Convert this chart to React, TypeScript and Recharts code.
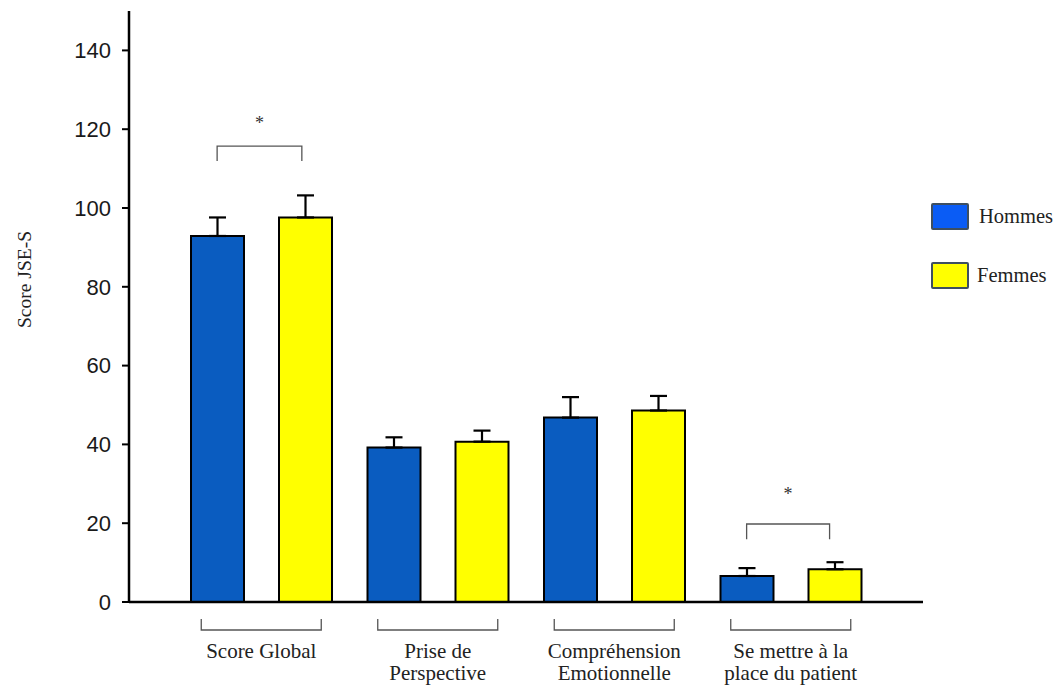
import { BarChart, Bar, XAxis, YAxis, ErrorBar, Legend, ReferenceArea, ReferenceDot } from 'recharts';

const categories = ['Score Global', 'Prise de\nPerspective', 'Compréhension\nEmotionnelle', 'Se mettre à la\nplace du patient'];
const hommes = [92.9, 39.2, 46.8, 6.6];
const femmes = [97.6, 40.7, 48.6, 8.3];
const hommesErr = [4.7, 2.6, 5.2, 2.0];
const femmesErr = [5.6, 2.8, 3.7, 1.8];
const yTicks = [0, 20, 40, 60, 80, 100, 120, 140];

// significance brackets, in category units (0..4) and score units
const bracketFrom = [0.25, 3.25];
const bracketTo = [0.73, 3.72];
const bracketTop = [115.7, 19.8];
const bracketLeg = [111.9, 15.9];
const starY = [122.2, 28];

const seriesNames = ['Hommes', 'Femmes'];

const data = categories.map((c, i) => ({
    category: c,
    hommes: hommes[i],
    femmes: femmes[i],
    hommesErr: [0, hommesErr[i]],
    femmesErr: [0, femmesErr[i]],
}));

const serif = '"Liberation Serif", "Times New Roman", serif';
const sans = '"Liberation Sans", Arial, sans-serif';

function CategoryTick({ x, y, payload }: any) {
    const lines = String(payload.value).split('\n');
    return (
        <g>
            <path
                d={`M${x - 60},${y + 17} V${y + 28} H${x + 60} V${y + 17}`}
                fill="none"
                stroke="#555"
                strokeWidth={1.3}
            />
            {lines.map((l, i) => (
                <text
                    key={i}
                    x={x}
                    y={y + 56 + i * 22}
                    textAnchor="middle"
                    fontFamily={serif}
                    fontSize={21}
                    fill="#222"
                >
                    {l}
                </text>
            ))}
        </g>
    );
}

function YLabel({ viewBox }: any) {
    const cx = viewBox.x + 24;
    const cy = viewBox.y + viewBox.height / 2 - 27;
    return (
        <text
            x={cx}
            y={cy}
            transform={`rotate(-90, ${cx}, ${cy})`}
            textAnchor="middle"
            dominantBaseline="central"
            fontFamily={serif}
            fontSize={19.5}
            fill="#222"
        >
            Score JSE-S
        </text>
    );
}

function Bracket({ x, y, width, height }: any) {
    return (
        <path
            d={`M${x},${y + height} V${y} H${x + width} V${y + height}`}
            fill="none"
            stroke="#555"
            strokeWidth={1.3}
        />
    );
}

function Star({ cx, cy }: any) {
    return (
        <text x={cx} y={cy + 8} textAnchor="middle" fontFamily={serif} fontSize={18} fill="#333">
            *
        </text>
    );
}

function LegendBox() {
    const fills = ['#0a5cf5', '#ffff00'];
    return (
        <div>
            {seriesNames.map((n, i) => (
                <div key={n} style={{ display: 'flex', alignItems: 'center', height: 27, marginBottom: 32 }}>
                    <div
                        style={{
                            width: 38,
                            height: 27,
                            boxSizing: 'border-box',
                            background: fills[i],
                            border: '2px solid #3e4f60',
                            borderRadius: 2,
                        }}
                    />
                    <span style={{ marginLeft: i === 0 ? 10 : 8, fontFamily: serif, fontSize: 20.5, color: '#222' }}>{n}</span>
                </div>
            ))}
        </div>
    );
}

export default function App() {
    return (
        <div style={{ position: 'absolute', left: 0, top: 0 }}>
            <BarChart
                width={1059}
                height={690}
                data={data}
                margin={{ top: 11, right: 6, left: 0, bottom: 0 }}
                barSize={53}
                barGap={35}
            >
                <XAxis
                    dataKey="category"
                    padding={{ left: 44, right: 44 }}
                    height={88}
                    axisLine={{ stroke: '#000', strokeWidth: 2.5 }}
                    tickLine={false}
                    tickSize={0}
                    tickMargin={0}
                    tick={<CategoryTick />}
                    interval={0}
                />
                <XAxis xAxisId="top" orientation="top" height={0} tick={false} tickLine={false} axisLine={{ stroke: '#000', strokeWidth: 2.5 }} />
                <XAxis
                    xAxisId="ann"
                    dataKey="annPos"
                    type="number"
                    domain={[0, 4]}
                    padding={{ left: 44, right: 44 }}
                    hide
                    allowDataOverflow
                />
                <YAxis
                    width={129}
                    domain={[0, 150]}
                    ticks={yTicks}
                    interval={0}
                    tickSize={7}
                    tickMargin={11}
                    axisLine={{ stroke: '#000', strokeWidth: 2.5 }}
                    tickLine={{ stroke: '#000', strokeWidth: 2 }}
                    tick={{ fill: '#1a1a1a', fontSize: 22, fontFamily: sans }}
                    label={<YLabel />}
                />
                <YAxis yAxisId="right" orientation="right" width={0} tick={false} tickLine={false} axisLine={{ stroke: '#000', strokeWidth: 2.5 }} />
                <Legend
                    layout="vertical"
                    align="right"
                    verticalAlign="top"
                    wrapperStyle={{ left: 931, top: 203, width: 130 }}
                    content={() => <LegendBox />}
                />
                <Bar dataKey="hommes" name={seriesNames[0]} fill="#0a5cc0" stroke="#000" strokeWidth={2} isAnimationActive={false}>
                    <ErrorBar dataKey="hommesErr" direction="y" width={8.5} stroke="#000" strokeWidth={2.2} />
                </Bar>
                <Bar dataKey="femmes" name={seriesNames[1]} fill="#ffff00" stroke="#000" strokeWidth={2} isAnimationActive={false}>
                    <ErrorBar dataKey="femmesErr" direction="y" width={8.5} stroke="#000" strokeWidth={2.2} />
                </Bar>
                {bracketFrom.map((f, i) => (
                    <ReferenceArea
                        key={`b${i}`}
                        xAxisId="ann"
                        x1={f}
                        x2={bracketTo[i]}
                        y1={bracketLeg[i]}
                        y2={bracketTop[i]}
                        shape={<Bracket />}
                        ifOverflow="visible"
                    />
                ))}
                {bracketFrom.map((f, i) => (
                    <ReferenceDot
                        key={`s${i}`}
                        xAxisId="ann"
                        x={(f + bracketTo[i]) / 2}
                        y={starY[i]}
                        shape={<Star />}
                        ifOverflow="visible"
                    />
                ))}
            </BarChart>
        </div>
    );
}
